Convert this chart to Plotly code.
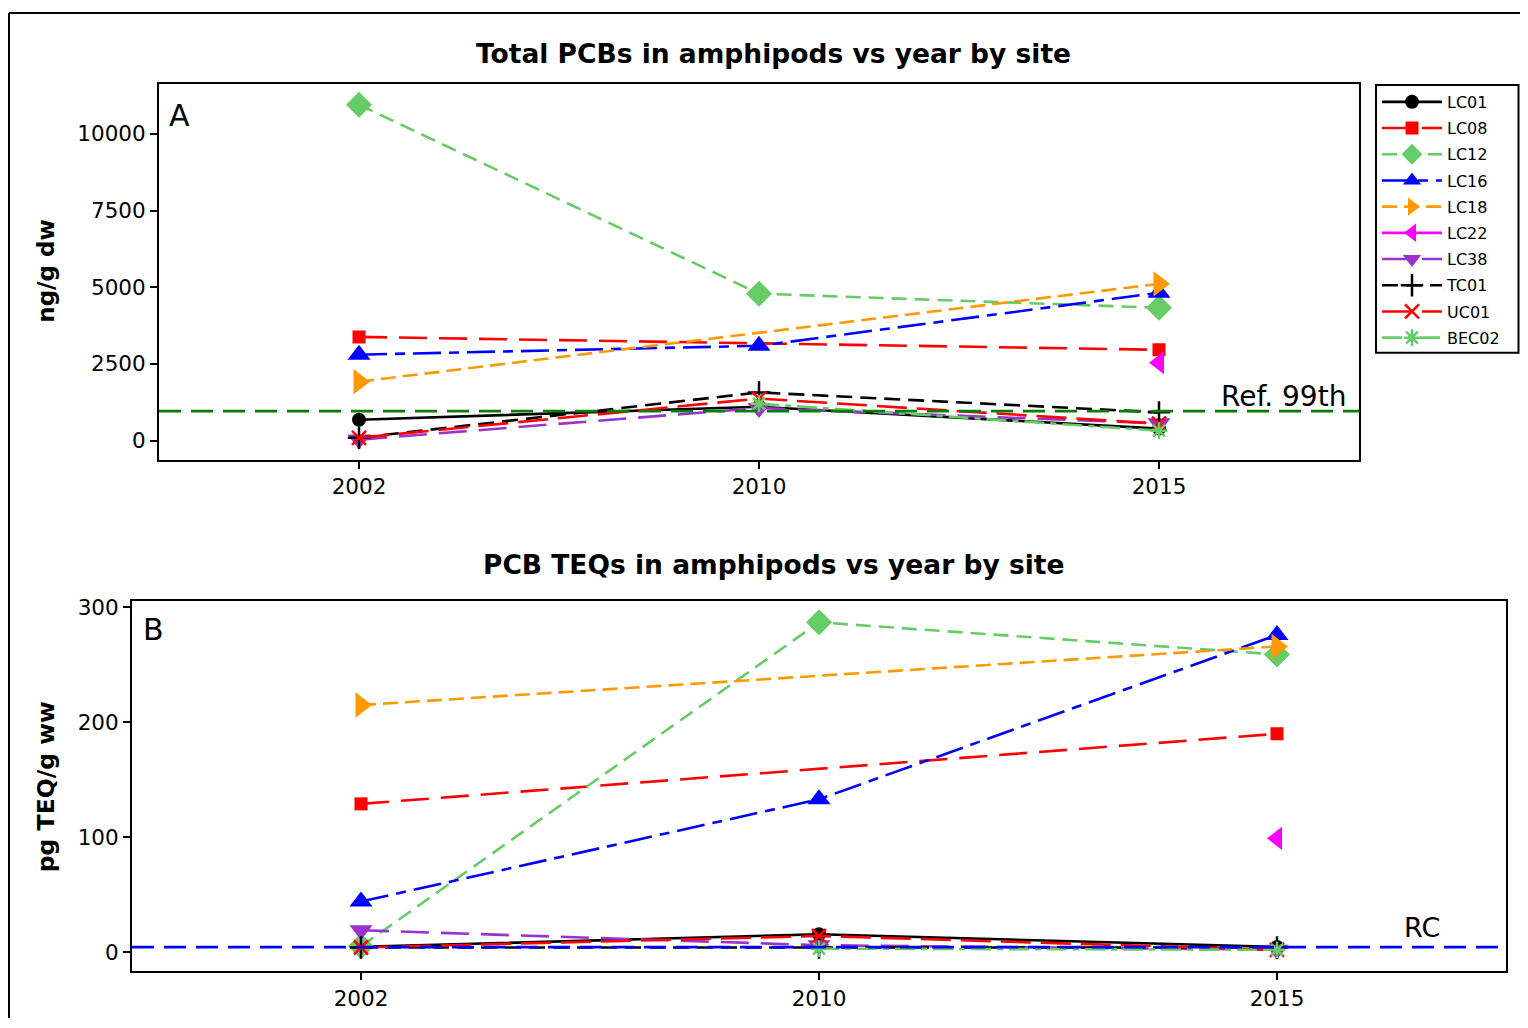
import plotly.graph_objects as go

years = ["2002", "2010", "2015"]
sites = ["LC01", "LC08", "LC12", "LC16", "LC18", "LC22", "LC38", "TC01", "UC01", "BEC02"]

# Panel A: Total PCBs (ng/g dw)
pcb_LC01 = [680, 1100, 390]
pcb_LC08 = [3380, None, 2960]
pcb_LC12 = [10950, 4790, 4330]
pcb_LC16 = [2800, 3090, 4820]
pcb_LC18 = [1920, None, 5110]
pcb_LC22 = [None, None, 2540]
pcb_LC38 = [30, 1060, 560]
pcb_TC01 = [90, 1570, 920]
pcb_UC01 = [90, 1370, 550]
pcb_BEC02 = [None, 1200, 320]

# Panel B: PCB TEQs (pg TEQ/g ww)
teq_LC01 = [4.5, 15.5, 4.5]
teq_LC08 = [129, None, 190]
teq_LC12 = [5, 287, 259]
teq_LC16 = [44, 133, 276]
teq_LC18 = [215, None, 266]
teq_LC22 = [None, None, 99]
teq_LC38 = [19, 6, 2]
teq_TC01 = [4, 4, 4]
teq_UC01 = [4, 14, 2]
teq_BEC02 = [None, 3, 2]

ref_99th = 960
ref_rc = 4.3

yA_ticks = [0, 2500, 5000, 7500, 10000]
yA_ticktext = ["0", "2500", "5000", "7500", "10000"]
yB_ticks = [0, 100, 200, 300]

pcb = [pcb_LC01, pcb_LC08, pcb_LC12, pcb_LC16, pcb_LC18, pcb_LC22, pcb_LC38, pcb_TC01, pcb_UC01, pcb_BEC02]
teq = [teq_LC01, teq_LC08, teq_LC12, teq_LC16, teq_LC18, teq_LC22, teq_LC38, teq_TC01, teq_UC01, teq_BEC02]

styles = {
    "LC01": dict(color="#000000", dash="solid", symbol="circle", size=14),
    "LC08": dict(color="#FF0000", dash="28px,12px", symbol="square", size=13),
    "LC12": dict(color="#66CC66", dash="15px,8px", symbol="diamond", size=20),
    "LC16": dict(color="#0000FF", dash="28px,8px,10px,8px", symbol="triangle-up", size=20),
    "LC18": dict(color="#FF9900", dash="15px,7px", symbol="triangle-right", size=22),
    "LC22": dict(color="#FF00FF", dash="solid", symbol="triangle-left", size=20),
    "LC38": dict(color="#9933CC", dash="28px,12px", symbol="triangle-down", size=20),
    "TC01": dict(color="#000000", dash="16px,8px", symbol="cross-thin", size=16),
    "UC01": dict(color="#FF0000", dash="30px,10px", symbol="x-thin", size=14),
    "BEC02": dict(color="#66CC66", dash="20px,6px,6px,6px", symbol="asterisk", size=14),
}

W, H = 1512, 1010
OX = 8


def px(x):
    return (x - OX) / W


def py(y):
    return 1 - (y - 13) / 1005


def mk(st):
    thin = "thin" in st["symbol"] or st["symbol"] == "asterisk"
    return dict(symbol=st["symbol"], size=st["size"], color=st["color"],
                line=dict(color=st["color"], width=2.5 if thin else 0))


fig = go.Figure()

for i, s in enumerate(sites):
    st = styles[s]
    fig.add_trace(go.Scatter(x=years, y=pcb[i], name=s, mode="lines+markers",
                             line=dict(color=st["color"], dash=st["dash"], width=2.6),
                             marker=mk(st), connectgaps=True, xaxis="x", yaxis="y",
                             legendgroup=s, showlegend=True))
for i, s in enumerate(sites):
    st = styles[s]
    fig.add_trace(go.Scatter(x=years, y=teq[i], name=s, mode="lines+markers",
                             line=dict(color=st["color"], dash=st["dash"], width=2.6),
                             marker=mk(st), connectgaps=True, xaxis="x2", yaxis="y2",
                             legendgroup=s, showlegend=False))

font = "DejaVu Sans"
axis_common = dict(showline=True, linecolor="black", linewidth=2, mirror=True,
                   ticks="outside", ticklen=7, tickwidth=2, tickcolor="black",
                   showgrid=False, zeroline=False,
                   tickfont=dict(family=font, size=21.5, color="black"))

fig.update_layout(
    width=W, height=H, autosize=False,
    margin=dict(l=0, r=0, t=0, b=0),
    paper_bgcolor="white", plot_bgcolor="white",
    font=dict(family=font, color="black"),
    xaxis=dict(domain=[px(159), px(1359)], type="category", range=[-0.5, 2.5], anchor="y",
               categoryorder="array", categoryarray=years, **axis_common),
    yaxis=dict(domain=[py(459), py(83)], range=[-620, 11630], anchor="x",
               tickvals=yA_ticks, ticktext=yA_ticktext, **axis_common),
    xaxis2=dict(domain=[px(132), px(1506)], type="category", range=[-0.5, 2.5], anchor="y2",
                categoryorder="array", categoryarray=years, **axis_common),
    yaxis2=dict(domain=[py(971), py(601)], range=[-16.5, 305.2], anchor="x2",
                tickvals=yB_ticks, **axis_common),
    legend=dict(x=px(1377), y=py(84), xanchor="left", yanchor="top",
                bgcolor="rgba(0,0,0,0)", borderwidth=0,
                font=dict(family=font, size=16, color="black"),
                itemwidth=60, tracegroupgap=2.4, itemclick=False),
)

# legend frame
fig.add_shape(type="rect", xref="paper", yref="paper", x0=px(1376), x1=px(1518.5),
              y0=py(352), y1=py(84), line=dict(color="black", width=2), fillcolor="white",
              layer="below")

# reference lines
fig.add_shape(type="line", xref="x domain", yref="y", x0=0, x1=1, y0=ref_99th, y1=ref_99th,
              line=dict(color="#008000", dash="22px,10px", width=2.6))
fig.add_shape(type="line", xref="x2 domain", yref="y2", x0=0, x1=1, y0=ref_rc, y1=ref_rc,
              line=dict(color="#0000FF", dash="22px,10px", width=2.6))

# outer frame (left and top edges)
fig.add_shape(type="line", xref="paper", yref="paper", x0=px(9), x1=px(9), y0=0, y1=py(12),
              line=dict(color="black", width=2))
fig.add_shape(type="line", xref="paper", yref="paper", x0=px(9), x1=1, y0=py(12), y1=py(12),
              line=dict(color="black", width=2))

ann = [
    dict(text="<b>Total PCBs in amphipods vs year by site</b>", x=px(773), y=py(53), size=26.5),
    dict(text="<b>PCB TEQs in amphipods vs year by site</b>", x=px(773), y=py(564), size=26.5),
]
for a in ann:
    fig.add_annotation(text=a["text"], x=a["x"], y=a["y"], xref="paper", yref="paper",
                       showarrow=False, xanchor="center", yanchor="middle",
                       font=dict(family=font, size=a["size"], color="black"))

fig.add_annotation(text="<b>ng/g dw</b>", x=px(46), y=py(271), xref="paper", yref="paper",
                   showarrow=False, textangle=-90, xanchor="center", yanchor="middle",
                   font=dict(family=font, size=23, color="black"))
fig.add_annotation(text="<b>pg TEQ/g ww</b>", x=px(46), y=py(787), xref="paper", yref="paper",
                   showarrow=False, textangle=-90, xanchor="center", yanchor="middle",
                   font=dict(family=font, size=23.5, color="black"))

fig.add_annotation(text="A", x=px(167), y=py(115), xref="paper", yref="paper", showarrow=False,
                   xanchor="left", yanchor="middle", font=dict(family=font, size=30, color="black"))
fig.add_annotation(text="B", x=px(141), y=py(629), xref="paper", yref="paper", showarrow=False,
                   xanchor="left", yanchor="middle", font=dict(family=font, size=30, color="black"))
fig.add_annotation(text="Ref. 99th", x=px(1348), y=py(396), xref="paper", yref="paper", showarrow=False,
                   xanchor="right", yanchor="middle", font=dict(family=font, size=28, color="black"))
fig.add_annotation(text="RC", x=px(1442), y=py(927), xref="paper", yref="paper", showarrow=False,
                   xanchor="right", yanchor="middle", font=dict(family=font, size=27, color="black"))

fig.write_html("out.html")
